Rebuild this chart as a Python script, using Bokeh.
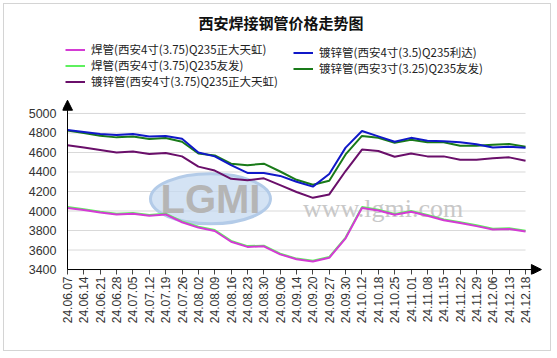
import math
from bokeh.plotting import figure
from bokeh.models import (Range1d, FixedTicker, Legend, LegendItem, Arrow,
                          NormalHead, ColumnDataSource)
from bokeh.embed import file_html
from bokeh.resources import INLINE
from bokeh.core.properties import value

# ---------------- data ----------------
dates = ["24.06.07", "24.06.14", "24.06.21", "24.06.28", "24.07.05", "24.07.12",
         "24.07.19", "24.07.26", "24.08.02", "24.08.09", "24.08.16", "24.08.23",
         "24.08.30", "24.09.06", "24.09.14", "24.09.20", "24.09.27", "24.09.30",
         "24.10.12", "24.10.18", "24.10.25", "24.11.01", "24.11.08", "24.11.15",
         "24.11.22", "24.11.29", "24.12.06", "24.12.13", "24.12.18"]

# 焊管(西安4寸(3.75)Q235正大天虹)
weld_zdth = [4030, 4010, 3985, 3965, 3972, 3952, 3965, 3885, 3830, 3795,
             3685, 3632, 3638, 3555, 3505, 3482, 3520, 3720, 4030, 4005,
             3962, 3993, 3952, 3905, 3878, 3845, 3810, 3815, 3790]
# 焊管(西安4寸(3.75)Q235友发)
weld_yf = [4040, 4018, 3992, 3972, 3980, 3960, 3972, 3893, 3840, 3805,
           3693, 3640, 3645, 3562, 3512, 3490, 3528, 3728, 4040, 4013,
           3970, 4000, 3960, 3913, 3886, 3853, 3818, 3823, 3798]
# 镀锌管(西安4寸(3.75)Q235正大天虹)
galv_zdth = [4675, 4650, 4625, 4600, 4610, 4585, 4595, 4560, 4455, 4415,
             4330, 4315, 4335, 4265, 4195, 4135, 4170, 4410, 4630, 4615,
             4557, 4590, 4560, 4560, 4525, 4525, 4540, 4550, 4515]
# 镀锌管(西安4寸(3.5)Q235利达)
galv_ld = [4830, 4810, 4790, 4780, 4790, 4765, 4770, 4740, 4600, 4560,
           4470, 4390, 4390, 4360, 4300, 4250, 4380, 4650, 4820, 4765,
           4710, 4750, 4720, 4715, 4705, 4685, 4652, 4658, 4648]
# 镀锌管(西安3寸(3.25)Q235友发)
galv_yf = [4825, 4800, 4772, 4755, 4765, 4738, 4748, 4710, 4590, 4570,
           4485, 4470, 4485, 4405, 4320, 4270, 4310, 4580, 4770, 4750,
           4700, 4730, 4705, 4705, 4670, 4670, 4680, 4687, 4660]

names = ["焊管(西安4寸(3.75)Q235正大天虹)",
         "焊管(西安4寸(3.75)Q235友发)",
         "镀锌管(西安4寸(3.75)Q235正大天虹)",
         "镀锌管(西安4寸(3.5)Q235利达)",
         "镀锌管(西安3寸(3.25)Q235友发)"]
colors = ["#d43bd4", "#5ef05e", "#6a0f6a", "#1018c8", "#197a19"]

y_ticks = [3400, 3600, 3800, 4000, 4200, 4400, 4600, 4800, 5000]
title_text = "西安焊接钢管价格走势图"
watermark_text = "www.lgmi.com"
logo_text = "LGMI"

# ---------------- layout constants ----------------
X_LO, X_HI = -0.306, 29.22      # frame extent (room for arrow heads)
X_TIP = 28.97                   # x-axis arrow tip
Y_LO, Y_HI = 3349, 5779         # frame extent (room for legend, arrows)
Y_TIP = 5136                    # y-axis arrow tip
CJK = "Noto Sans CJK SC"
LAT = "Liberation Sans"

x = list(range(len(dates)))
src = ColumnDataSource(dict(x=x, weld_zdth=weld_zdth, weld_yf=weld_yf,
                            galv_zdth=galv_zdth, galv_ld=galv_ld, galv_yf=galv_yf))

p = figure(width=548, height=348, output_backend="svg", toolbar_location=None,
           x_range=Range1d(X_LO, X_HI), y_range=Range1d(Y_LO, Y_HI),
           min_border_left=58, min_border_right=7, min_border_top=32,
           min_border_bottom=78, title=title_text)
p.styles = {"border": "1px solid #d4d4d4", "margin": "3px 0 0 3px"}
p.outline_line_color = None
p.background_fill_color = "white"
p.border_fill_color = "white"
p.xgrid.visible = False
p.ygrid.visible = False

p.title.text_font = CJK
p.title.text_font_size = "15px"
p.title.text_font_style = "bold"
p.title.text_color = "#111111"
p.title.align = "left"
p.title.offset = 136

# grid lines (limited to data extent)
grid_vals = y_ticks[1:]
p.segment(x0=[x[0]] * len(grid_vals), x1=[x[-1]] * len(grid_vals),
          y0=grid_vals, y1=grid_vals, line_color="#d9d9d9", line_width=1)

# watermark
p.ellipse(x=[8.74], y=[4125], width=120, height=50, width_units="screen",
          height_units="screen", fill_color="#c6daf0", fill_alpha=0.75,
          line_color="#b3cbe8", line_width=3)
p.text(x=[8.74], y=[4125], text=[logo_text], text_align="center",
       text_baseline="middle", text_font=value(LAT), text_font_size="40px",
       text_font_style="bold", text_color="#b5b5b5")
p.text(x=[14.4], y=[4023], text=[watermark_text], text_align="left",
       text_baseline="alphabetic", text_font=value("Liberation Serif"),
       text_font_size="26px", text_color="#c8c8c8")

# series
r_lg = p.line("x", "weld_yf", source=src, line_color=colors[1], line_width=2)
r_mg = p.line("x", "weld_zdth", source=src, line_color=colors[0], line_width=2)
r_dg = p.line("x", "galv_yf", source=src, line_color=colors[4], line_width=2)
r_bl = p.line("x", "galv_ld", source=src, line_color=colors[3], line_width=2)
r_pu = p.line("x", "galv_zdth", source=src, line_color=colors[2], line_width=2)

# axes (lines drawn as arrows below; bokeh axis lines hidden)
p.xaxis.ticker = FixedTicker(ticks=x)
p.xaxis.major_label_overrides = {i: d for i, d in enumerate(dates)}
p.xaxis.major_label_orientation = math.pi / 2
p.xaxis.major_label_text_font = LAT
p.xaxis.major_label_text_font_size = "12px"
p.xaxis.major_label_text_color = "#333333"
p.xaxis.major_tick_out = 0
p.xaxis.major_tick_in = 5
p.xaxis.major_tick_line_color = "#444444"
p.xaxis.minor_tick_line_color = None
p.xaxis.major_label_standoff = 2
p.xaxis.axis_line_color = None

p.yaxis.ticker = FixedTicker(ticks=y_ticks)
p.yaxis.major_label_text_font = LAT
p.yaxis.major_label_text_font_size = "12.5px"
p.yaxis.major_label_text_color = "#333333"
p.yaxis.major_tick_line_color = None
p.yaxis.minor_tick_line_color = None
p.yaxis.major_label_standoff = 0
p.yaxis.axis_line_color = None

p.add_layout(Arrow(end=NormalHead(size=10, fill_color="black", line_color="black"),
                   x_start=0, y_start=y_ticks[0], x_end=X_TIP, y_end=y_ticks[0],
                   line_color="black", line_width=1))
p.add_layout(Arrow(end=NormalHead(size=10, fill_color="black", line_color="black"),
                   x_start=0, y_start=y_ticks[0], x_end=0, y_end=Y_TIP,
                   line_color="black", line_width=1))

# legends
def make_legend(items, loc):
    lg = Legend(items=items, location=loc, orientation="vertical")
    lg.border_line_color = None
    lg.background_fill_alpha = 0
    lg.padding = 0
    lg.margin = 0
    lg.spacing = 0
    lg.label_height = 13
    lg.glyph_height = 13
    lg.glyph_width = 20
    lg.label_standoff = 6
    lg.label_text_font = CJK
    lg.label_text_font_size = "11.5px"
    lg.label_text_color = "#222222"
    return lg

left = make_legend([LegendItem(label=names[0], renderers=[r_mg]),
                    LegendItem(label=names[1], renderers=[r_lg]),
                    LegendItem(label=names[2], renderers=[r_pu])], (3, 185))
right = make_legend([LegendItem(label=names[3], renderers=[r_bl]),
                     LegendItem(label=names[4], renderers=[r_dg])], (231, 198))
p.add_layout(left, "center")
p.add_layout(right, "center")

open("out.html", "w").write(file_html(p, INLINE))
